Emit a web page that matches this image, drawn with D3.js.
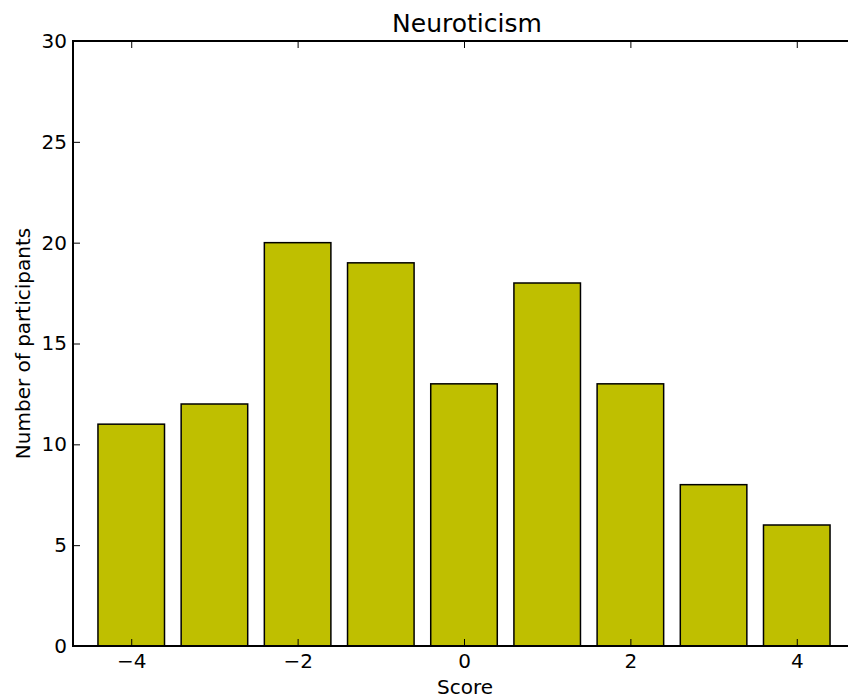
<!DOCTYPE html>
<html>
<head>
<meta charset="utf-8">
<script src="https://cdn.jsdelivr.net/npm/d3@7"></script>
<style>
  html, body { margin: 0; padding: 0; background: #fff; }
  svg { display: block; font-family: "DejaVu Sans", sans-serif; }
</style>
</head>
<body>
<svg id="chart" width="848" height="698"></svg>
<script>
// Score bins and participant counts
const scores = [-4, -3, -2, -1, 0, 1, 2, 3, 4];
const counts = [11, 12, 20, 19, 13, 18, 13, 8, 6];
const xTicks = [-4, -2, 0, 2, 4];
const yTicks = [0, 5, 10, 15, 20, 25, 30];
const titleText = "Neuroticism";
const xLabel = "Score";
const yLabel = "Number of participants";

const svg = d3.select("#chart");
const plot = { left: 73, right: 855, top: 41, bottom: 646 };

const x = d3.scaleLinear().domain([-4.7, 4.7]).range([plot.left, plot.right]);
const y = d3.scaleLinear().domain([0, 30]).range([plot.bottom, plot.top]);
const barWidth = 0.8;
const tickLen = 7;

// Bars
svg.append("g").selectAll("rect")
  .data(scores.map((s, i) => ({ s, c: counts[i] })))
  .join("rect")
  .attr("x", d => x(d.s - barWidth / 2))
  .attr("width", d => x(d.s + barWidth / 2) - x(d.s - barWidth / 2))
  .attr("y", d => y(d.c))
  .attr("height", d => y(0) - y(d.c))
  .attr("fill", "#bfbf00")
  .attr("stroke", "#000")
  .attr("stroke-width", 1.5);

// Axes with inward ticks on all four sides
const fmt = d => d < 0 ? "\u2212" + Math.abs(d) : String(d);

const xBottom = d3.axisBottom(x).tickValues(xTicks).tickSizeInner(-tickLen).tickSizeOuter(0).tickPadding(8).tickFormat(fmt);
const xTop = d3.axisTop(x).tickValues(xTicks).tickSizeInner(-tickLen).tickSizeOuter(0).tickFormat("");
const yLeft = d3.axisLeft(y).tickValues(yTicks).tickSizeInner(-tickLen).tickSizeOuter(0).tickPadding(6).tickFormat(fmt);
const yRight = d3.axisRight(y).tickValues(yTicks).tickSizeInner(-tickLen).tickSizeOuter(0).tickFormat("");

function styleAxis(g) {
  g.select(".domain").remove();
  g.selectAll(".tick line").attr("stroke", "#000").attr("stroke-width", 1);
  g.selectAll(".tick text").attr("fill", "#000").style("font-size", "20px")
    .style("font-family", "'DejaVu Sans', sans-serif");
}

svg.append("g").attr("transform", `translate(0,${plot.bottom})`).call(xBottom).call(styleAxis);
svg.append("g").attr("transform", `translate(0,${plot.top})`).call(xTop).call(styleAxis);
svg.append("g").attr("transform", `translate(${plot.left},0)`).call(yLeft).call(styleAxis);
svg.append("g").attr("transform", `translate(${plot.right},0)`).call(yRight).call(styleAxis);

// Frame
svg.append("rect")
  .attr("x", plot.left).attr("y", plot.top)
  .attr("width", plot.right - plot.left).attr("height", plot.bottom - plot.top)
  .attr("fill", "none").attr("stroke", "#000").attr("stroke-width", 2);

// Title and axis labels
svg.append("text")
  .attr("x", 467).attr("y", 32)
  .attr("text-anchor", "middle")
  .style("font-size", "25px")
  .text(titleText);

svg.append("text")
  .attr("x", 465).attr("y", 694)
  .attr("text-anchor", "middle")
  .style("font-size", "20px")
  .text(xLabel);

svg.append("text")
  .attr("transform", `translate(30,${(plot.top + plot.bottom) / 2}) rotate(-90)`)
  .attr("text-anchor", "middle")
  .style("font-size", "20px")
  .text(yLabel);
</script>
</body>
</html>
